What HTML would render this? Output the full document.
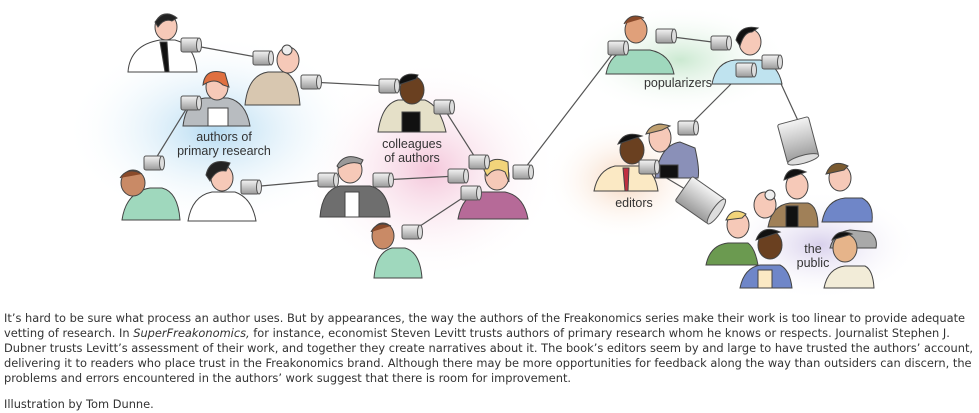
<!DOCTYPE html>
<html><head><meta charset="utf-8"><style>
html,body{margin:0;padding:0;background:#fff;width:979px;height:413px;overflow:hidden}
#c{position:absolute;left:0;top:0}
.t{position:absolute;left:4px;font-family:"DejaVu Sans","Liberation Sans",sans-serif;font-size:11.4px;color:#333;white-space:nowrap;line-height:15px}
</style></head><body>
<svg id="c" width="979" height="300" viewBox="0 0 979 300" xmlns="http://www.w3.org/2000/svg" font-family="Liberation Sans, sans-serif">
<defs>
<radialGradient id="gb"><stop offset="0" stop-color="#b5dbf2"/><stop offset="1" stop-color="#fff" stop-opacity="0"/></radialGradient>
<radialGradient id="gp"><stop offset="0" stop-color="#f4c6da"/><stop offset="1" stop-color="#fff" stop-opacity="0"/></radialGradient>
<radialGradient id="gg"><stop offset="0" stop-color="#cbe9d1"/><stop offset="1" stop-color="#fff" stop-opacity="0"/></radialGradient>
<radialGradient id="go"><stop offset="0" stop-color="#f6d4ba"/><stop offset="1" stop-color="#fff" stop-opacity="0"/></radialGradient>
<radialGradient id="gv"><stop offset="0" stop-color="#d8d0ec"/><stop offset="1" stop-color="#fff" stop-opacity="0"/></radialGradient>
<linearGradient id="can" x1="0" y1="0" x2="0" y2="1"><stop offset="0" stop-color="#f4f4f4"/><stop offset="0.5" stop-color="#c8c8c8"/><stop offset="1" stop-color="#9a9a9a"/></linearGradient>
<g id="cn"><rect x="-9" y="-7" width="18" height="14" rx="2" fill="url(#can)" stroke="#555" stroke-width="1"/><ellipse cx="9" cy="0" rx="2.5" ry="7" fill="#ddd" stroke="#555"/></g>
</defs>
<ellipse cx="215" cy="130" rx="150" ry="95" fill="url(#gb)"/>
<ellipse cx="430" cy="170" rx="130" ry="110" fill="url(#gp)"/>
<ellipse cx="680" cy="60" rx="110" ry="55" fill="url(#gg)"/>
<ellipse cx="625" cy="180" rx="80" ry="60" fill="url(#go)"/>
<ellipse cx="820" cy="245" rx="100" ry="55" fill="url(#gv)"/>
<g stroke="#555" stroke-width="1.2" fill="none">
<path d="M190 45L262 58M310 82L388 86M443 107L478 162M190 103L153 163M250 187L327 180M382 180L457 176M470 193L411 232M522 172L617 48M665 36L720 43M745 70L687 128M771 62L800 125M648 167L690 192"/>
</g>
<g stroke="#444" stroke-width="1">
<path d="M128 72 Q130 45 160 40 L175 40 Q195 45 197 72Z" fill="#fff"/><path d="M160 42l5 30h4l-2-30z" fill="#111"/><ellipse cx="166" cy="27" rx="11" ry="13" fill="#f6c9b8"/><path d="M155 22q10-14 22-4l-5 3q-8-3-14 6z" fill="#222"/>
<path d="M245 105 Q248 75 268 72 L285 72 Q298 78 300 105Z" fill="#d8c7b0"/><ellipse cx="288" cy="60" rx="11" ry="13" fill="#f6c9b8"/><circle cx="287" cy="50" r="5" fill="#eee"/>
<path d="M183 126 Q186 100 205 98 L228 98 Q246 102 250 126Z" fill="#b8bcc0"/><rect x="208" y="108" width="20" height="18" fill="#fff"/><ellipse cx="217" cy="87" rx="11" ry="13" fill="#f6c9b8"/><path d="M203 85q2-18 22-12l4 14-6-2q-8-8-20 0z" fill="#e07040"/>
<path d="M122 220 Q126 192 150 188 L162 188 Q178 192 180 220Z" fill="#9fd8bd"/><ellipse cx="133" cy="183" rx="12" ry="13" fill="#c98a66"/><path d="M120 178q8-12 22-4" fill="#8a4a2a"/>
<path d="M188 221 Q192 196 212 192 L235 192 Q252 198 256 221Z" fill="#fff"/><ellipse cx="222" cy="178" rx="11" ry="13" fill="#f6c9b8"/><path d="M206 175q4-18 24-12l-4 8q-10-2-16 10z" fill="#222"/>
<path d="M378 132 Q382 104 398 100 L425 100 Q440 106 446 132Z" fill="#e5e0c8"/><rect x="402" y="112" width="18" height="20" fill="#111"/><ellipse cx="412" cy="90" rx="12" ry="14" fill="#6a4020"/><path d="M398 85q4-14 20-10l-2 4z" fill="#111"/>
<path d="M320 217 Q322 190 340 186 L370 186 Q388 190 390 217Z" fill="#6e6e6e"/><rect x="345" y="192" width="14" height="25" fill="#fff"/><ellipse cx="350" cy="170" rx="12" ry="13" fill="#f6c9b8"/><path d="M337 166q8-15 26-6l-2 4q-10-4-22 4z" fill="#999"/>
<path d="M458 219 Q462 196 480 192 L505 192 Q524 196 528 219Z" fill="#b66a98"/><ellipse cx="497" cy="176" rx="12" ry="14" fill="#f6c9b8"/><path d="M484 170q6-16 24-8l1 20-4-10q-10-6-18 4z" fill="#f2d47a"/>
<path d="M374 278 Q376 252 392 248 L405 248 Q420 252 422 278Z" fill="#9fd8bd"/><ellipse cx="383" cy="236" rx="11" ry="13" fill="#c98a66"/><path d="M371 232q6-12 20-6" fill="#8a4a2a"/>
<path d="M606 74 Q610 52 630 50 L650 50 Q670 54 674 74Z" fill="#9fd8bd"/><ellipse cx="636" cy="30" rx="11" ry="13" fill="#e0a07a"/><path d="M624 24q6-12 20-6" fill="#8a4a2a"/>
<path d="M712 84 Q716 62 735 60 L760 60 Q778 64 782 84Z" fill="#bfe3ef"/><ellipse cx="750" cy="42" rx="11" ry="13" fill="#f6c9b8"/><path d="M736 40q4-16 22-12l-6 4q-8 0-12 14z" fill="#111"/>
<path d="M594 191 Q598 170 615 166 L640 166 Q655 170 658 191Z" fill="#fbe9c4"/><path d="M623 168l2 23h3l1-23z" fill="#c03040"/><ellipse cx="632" cy="150" rx="12" ry="14" fill="#6a4020"/><path d="M618 144q6-14 24-8z" fill="#111"/>
<path d="M655 178 Q660 145 680 142 L695 148 Q700 170 698 178Z" fill="#8a90b8"/><rect x="660" y="165" width="18" height="13" fill="#111"/><ellipse cx="660" cy="138" rx="11" ry="14" fill="#f6c9b8"/><path d="M646 134q6-14 24-8l-8 4z" fill="#c0a070"/>
<path d="M822 222 Q826 200 845 198 L862 198 Q874 204 872 222Z" fill="#6f86c8"/><ellipse cx="840" cy="178" rx="11" ry="13" fill="#f6c9b8"/><path d="M826 174q6-16 22-8l-4 4z" fill="#7a5a30"/>
<path d="M768 227 Q772 205 790 203 L808 203 Q818 206 818 227Z" fill="#a08058"/><rect x="786" y="206" width="12" height="21" fill="#111"/><ellipse cx="797" cy="186" rx="11" ry="13" fill="#f6c9b8"/><path d="M784 180q4-16 22-8z" fill="#111"/>
<ellipse cx="765" cy="205" rx="11" ry="13" fill="#f6c9b8"/><circle cx="770" cy="195" r="5" fill="#eee"/>
<path d="M830 248 Q834 232 850 230 L870 232 Q878 238 876 248Z" fill="#a9a9a9"/>
<path d="M706 265 Q710 245 728 243 L748 243 Q755 248 758 265Z" fill="#6b9a50"/><ellipse cx="738" cy="225" rx="11" ry="13" fill="#f6c9b8"/><path d="M726 220q6-14 20-6l-4 4z" fill="#f2d47a"/>
<path d="M740 288 Q744 268 760 265 L780 265 Q790 270 792 288Z" fill="#6f86c8"/><rect x="758" y="270" width="14" height="18" fill="#fbe9c4"/><ellipse cx="770" cy="245" rx="12" ry="14" fill="#6a4020"/><path d="M756 240q6-16 24-8z" fill="#111"/>
<path d="M824 288 Q828 268 845 266 L865 266 Q873 270 874 288Z" fill="#f2ecd8"/><ellipse cx="845" cy="248" rx="12" ry="14" fill="#e6b48a"/><path d="M832 240q6-12 20-6z" fill="#111"/>
</g>
<g>
<use href="#cn" x="190" y="45"/><use href="#cn" x="262" y="58"/><use href="#cn" x="310" y="82"/><use href="#cn" x="388" y="86"/><use href="#cn" x="443" y="107"/><use href="#cn" x="190" y="103"/><use href="#cn" x="153" y="163"/><use href="#cn" x="250" y="187"/><use href="#cn" x="327" y="180"/><use href="#cn" x="382" y="180"/><use href="#cn" x="457" y="176"/><use href="#cn" x="478" y="162"/><use href="#cn" x="470" y="193"/><use href="#cn" x="411" y="232"/><use href="#cn" x="522" y="172"/><use href="#cn" x="617" y="48"/><use href="#cn" x="665" y="36"/><use href="#cn" x="720" y="43"/><use href="#cn" x="745" y="70"/><use href="#cn" x="771" y="62"/><use href="#cn" x="687" y="128"/><use href="#cn" x="648" y="167"/>
<g transform="translate(798,140) rotate(-15)"><rect x="-16" y="-20" width="32" height="40" rx="2" fill="url(#can)" stroke="#555"/><ellipse cx="0" cy="20" rx="16" ry="4" fill="#ddd" stroke="#555"/></g>
<g transform="translate(700,200) rotate(35)"><rect x="-20" y="-15" width="40" height="30" rx="2" fill="url(#can)" stroke="#555"/><ellipse cx="20" cy="0" rx="4" ry="15" fill="#ddd" stroke="#555"/></g>
</g>
<g font-size="12.5" fill="#333" text-anchor="middle">
<text x="224" y="141">authors of</text><text x="224" y="155">primary research</text>
<text x="412" y="148">colleagues</text><text x="412" y="162">of authors</text>
<text x="678" y="87">popularizers</text>
<text x="634" y="207">editors</text>
<text x="813" y="253">the</text><text x="813" y="267">public</text>
</g>
</svg>
<div class="t" style="top:311px">It’s hard to be sure what process an author uses. But by appearances, the way the authors of the Freakonomics series make their work is too linear to provide adequate<br>vetting of research. In <i>SuperFreakonomics,</i> for instance, economist Steven Levitt trusts authors of primary research whom he knows or respects. Journalist Stephen J.<br>Dubner trusts Levitt’s assessment of their work, and together they create narratives about it. The book’s editors seem by and large to have trusted the authors’ account,<br>delivering it to readers who place trust in the Freakonomics brand. Although there may be more opportunities for feedback along the way than outsiders can discern, the<br>problems and errors encountered in the authors’ work suggest that there is room for improvement.</div>
<div class="t" style="top:397px">Illustration by Tom Dunne.</div>
</body></html>
